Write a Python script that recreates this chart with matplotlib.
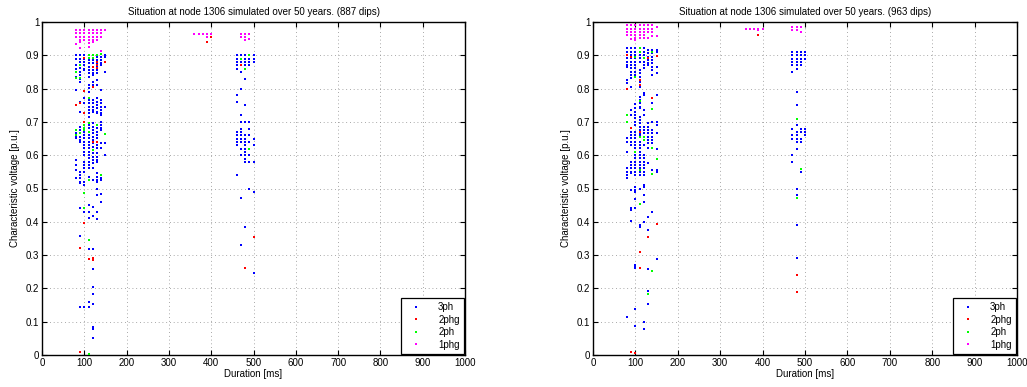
import matplotlib
matplotlib.use("Agg")
import matplotlib.pyplot as plt
from matplotlib.lines import Line2D

plt.rcParams['font.family'] = ['Liberation Sans', 'DejaVu Sans']

# ---- Dip events: {duration [ms]: [characteristic voltages, p.u.]} ----
TITLES = ["Situation at node 1306 simulated over 50 years. (887 dips)",
          "Situation at node 1306 simulated over 50 years. (963 dips)"]
XLABEL = "Duration [ms]"
YLABEL = "Characteristic voltage [p.u.]"
LEGEND_LABELS = ["3ph", "2phg", "2ph", "1phg"]
COLORS = ["#0000ff", "#ff0000", "#00ff00", "#ff00ff"]
XTICKS = [0, 100, 200, 300, 400, 500, 600, 700, 800, 900, 1000]
YTICKS = [0, 0.1, 0.2, 0.3, 0.4, 0.5, 0.6, 0.7, 0.8, 0.9, 1]

left_3ph = {
    80: [.90, .89, .87, .86, .836, .796, .676, .666, .656, .651, .586, .571, .556, .531],
    90: [.90, .89, .88, .861, .85, .84, .83, .821, .761, .731, .686, .676, .666, .656,
         .646, .641, .551, .541, .531, .521, .516, .44, .357, .145, .01],
    100: [.90, .89, .88, .87, .86, .856, .771, .756, .681, .671, .661, .651, .641, .631,
          .621, .611, .601, .581, .571, .561, .551, .521, .51, .43, .145],
    110: [.886, .876, .866, .856, .846, .836, .811, .801, .791, .766, .756, .746, .736,
          .726, .716, .691, .681, .671, .661, .651, .641, .631, .621, .611, .601, .591,
          .581, .571, .561, .536, .45, .428, .412, .318, .16, .145],
    120: [.886, .876, .866, .856, .846, .841, .821, .811, .766, .756, .746, .736, .731,
          .696, .686, .676, .666, .656, .646, .636, .626, .616, .606, .596, .586, .576,
          .561, .526, .445, .417, .318, .258, .205, .183, .153, .083, .078, .05],
    130: [.896, .886, .876, .866, .856, .846, .826, .811, .771, .761, .751, .741, .731,
          .726, .691, .681, .671, .661, .651, .641, .631, .621, .606, .596, .586, .581,
          .546, .536, .526, .521, .50, .48, .428, .408],
    140: [.896, .886, .876, .871, .796, .766, .756, .746, .736, .726, .721, .701, .691,
          .681, .676, .636, .621, .531, .526, .483, .46],
    150: [.90, .895, .851, .746, .636, .601],
    460: [.90, .89, .88, .87, .86, .78, .76, .67, .66, .65, .64, .63, .54],
    470: [.90, .89, .88, .87, .85, .80, .72, .70, .68, .67, .66, .65, .64, .62, .60, .47, .33],
    480: [.90, .89, .88, .87, .86, .83, .75, .70, .66, .65, .64, .63, .62, .61, .60, .59,
          .58, .385],
    490: [.90, .89, .88, .87, .70, .68, .66, .64, .62, .60, .58, .50],
    500: [.90, .89, .88, .65, .63, .58, .49, .245],
}
left_2phg = {
    80: [.751],
    90: [.756, .32, .008],
    100: [.891, .793, .726, .701, .397],
    110: [.288],
    120: [.866, .806, .641, .29, .285],
    130: [.881, .871, .861, .641],
    150: [.881],
    390: [.94],
    400: [.955],
    470: [.87],
    480: [.26],
    500: [.355],
}
left_2ph = {
    80: [.851, .833, .676, .661],
    90: [.871, .831, .666],
    100: [.691, .681, .676, .487, .44],
    110: [.90, .891, .771, .696, .671, .526, .345, .003],
    120: [.90, .891, .616],
    130: [.90, .691],
    140: [.903, .541],
    150: [.663],
    470: [.89],
    480: [.86],
    490: [.90, .62],
}
left_1phg = {
    80: [.976, .966, .956, .933],
    90: [.976, .966, .956, .946, .941, .921],
    100: [.976, .966, .956, .946],
    110: [.976, .966, .956, .946, .936, .926],
    120: [.976, .966, .956, .946, .941],
    130: [.976, .966, .956, .946],
    140: [.976, .966, .956, .913],
    150: [.976],
    360: [.965],
    370: [.965],
    380: [.965],
    390: [.965, .955],
    400: [.965],
    470: [.965, .955],
    480: [.965, .955, .945],
    490: [.965, .95],
}

right_3ph = {
    80: [.921, .911, .901, .891, .881, .871, .866, .826, .816, .721, .651, .641, .611,
         .561, .551, .541, .531, .115],
    90: [.921, .911, .901, .891, .881, .871, .861, .851, .841, .831, .806, .736, .721,
         .671, .661, .651, .641, .631, .581, .571, .561, .551, .546, .495, .44, .435, .403],
    100: [.921, .911, .901, .891, .881, .871, .861, .851, .841, .753, .741, .731, .721,
          .711, .701, .691, .671, .661, .651, .641, .631, .621, .611, .601, .591, .581,
          .571, .561, .551, .541, .505, .495, .49, .468, .44, .27, .265, .26, .137, .088],
    110: [.921, .911, .901, .891, .881, .856, .846, .836, .821, .806, .776, .766, .756,
          .746, .741, .716, .706, .696, .686, .676, .666, .661, .641, .631, .621, .611,
          .601, .591, .581, .571, .561, .551, .541, .497, .39, .385],
    120: [.921, .911, .901, .891, .881, .871, .861, .786, .781, .736, .721, .686, .676,
          .666, .656, .646, .631, .601, .591, .581, .571, .561, .551, .541, .51, .505,
          .48, .458, .40, .10, .078],
    130: [.916, .906, .896, .886, .876, .871, .696, .686, .676, .666, .656, .646, .636,
          .621, .576, .415, .375, .258, .193, .152],
    140: [.916, .906, .896, .886, .876, .866, .856, .841, .756, .701, .676, .666, .656,
          .646, .636, .556, .428],
    150: [.916, .911, .866, .846, .781, .701, .691, .666, .619, .556, .551, .287],
    470: [.91, .90, .89, .88, .87, .85, .68, .66, .65, .60, .58],
    480: [.91, .90, .89, .88, .87, .86, .79, .75, .69, .67, .66, .65, .64, .62, .50, .48,
          .39, .29],
    490: [.91, .90, .89, .88, .87, .68, .67, .65, .64, .55],
    500: [.91, .90, .89, .68, .67, .66],
}
right_2phg = {
    80: [.901, .799],
    90: [.896, .681, .01],
    100: [.005],
    110: [.826, .811, .671, .31, .262],
    120: [.893],
    130: [.891, .353],
    140: [.771],
    150: [.898, .392],
    390: [.96],
    480: [.24, .19],
}
right_2ph = {
    80: [.721, .701],
    100: [.896, .836, .611],
    110: [.921, .911, .763, .656, .556, .453],
    120: [.891, .656, .646],
    130: [.182],
    140: [.911, .738, .621, .543, .253],
    150: [.588],
    480: [.71, .47],
    490: [.56],
}
right_1phg = {
    80: [.99, .98, .97, .961],
    90: [.99, .98, .97, .961, .949],
    100: [.99, .98, .97, .96, .951, .946],
    110: [.99, .98, .97, .96, .951],
    120: [.99, .98, .97, .96, .953],
    130: [.99, .98, .97, .953],
    140: [.99, .98, .97, .958],
    150: [.986, .958],
    360: [.98],
    370: [.98],
    380: [.98],
    390: [.98, .975],
    400: [.98],
    470: [.985, .975],
    480: [.985, .975],
    490: [.985, .97],
}

PANELS = [
    (TITLES[0], [left_3ph, left_2phg, left_2ph, left_1phg]),
    (TITLES[1], [right_3ph, right_2phg, right_2ph, right_1phg]),
]


def flatten(events):
    xs, ys = [], []
    for dur, volts in events.items():
        xs.extend([dur] * len(volts))
        ys.extend(volts)
    return xs, ys


W, H = 1027, 387
fig = plt.figure(figsize=(W / 100, H / 100), dpi=100)
rects = [
    (42 / W, (H - 355) / H, 423 / W, 333 / H),
    (593 / W, (H - 355) / H, 424 / W, 333 / H),
]

MS = 1.8

for rect, (title, groups) in zip(rects, PANELS):
    ax = fig.add_axes(rect)
    for events, color in zip(groups, COLORS):
        xs, ys = flatten(events)
        ax.plot(xs, ys, linestyle="none", marker="s", markersize=MS,
                markeredgewidth=0, color=color, clip_on=False, zorder=3)
    ax.set_xlim(0, 1000)
    ax.set_ylim(0, 1)
    ax.set_xticks(XTICKS)
    ax.set_yticks(YTICKS)
    ax.set_yticklabels([("%g" % t) for t in YTICKS])
    ax.tick_params(direction="in", top=True, right=True, length=3.5, width=0.8,
                   labelsize=7, pad=2)
    ax.grid(True, color="0.55", linestyle=(0, (1, 3.5)), linewidth=0.6)
    for sp in ax.spines.values():
        sp.set_linewidth(1.0)
    ax.set_title(title, fontsize=7, pad=5)
    ax.set_xlabel(XLABEL, fontsize=7, labelpad=1)
    ax.set_ylabel(YLABEL, fontsize=7, labelpad=4)

    handles = [Line2D([], [], linestyle="none", marker="s", markersize=MS,
                      markeredgewidth=0, color=c) for c in COLORS]
    leg = ax.legend(handles, LEGEND_LABELS, loc="lower right", fontsize=7,
                    frameon=True, fancybox=False, framealpha=1, edgecolor="black",
                    borderaxespad=0.15, handlelength=2.2, handletextpad=1.2,
                    labelspacing=0.25, borderpad=0.4)
    leg.get_frame().set_linewidth(0.9)

fig.savefig("out.png", dpi=100)
